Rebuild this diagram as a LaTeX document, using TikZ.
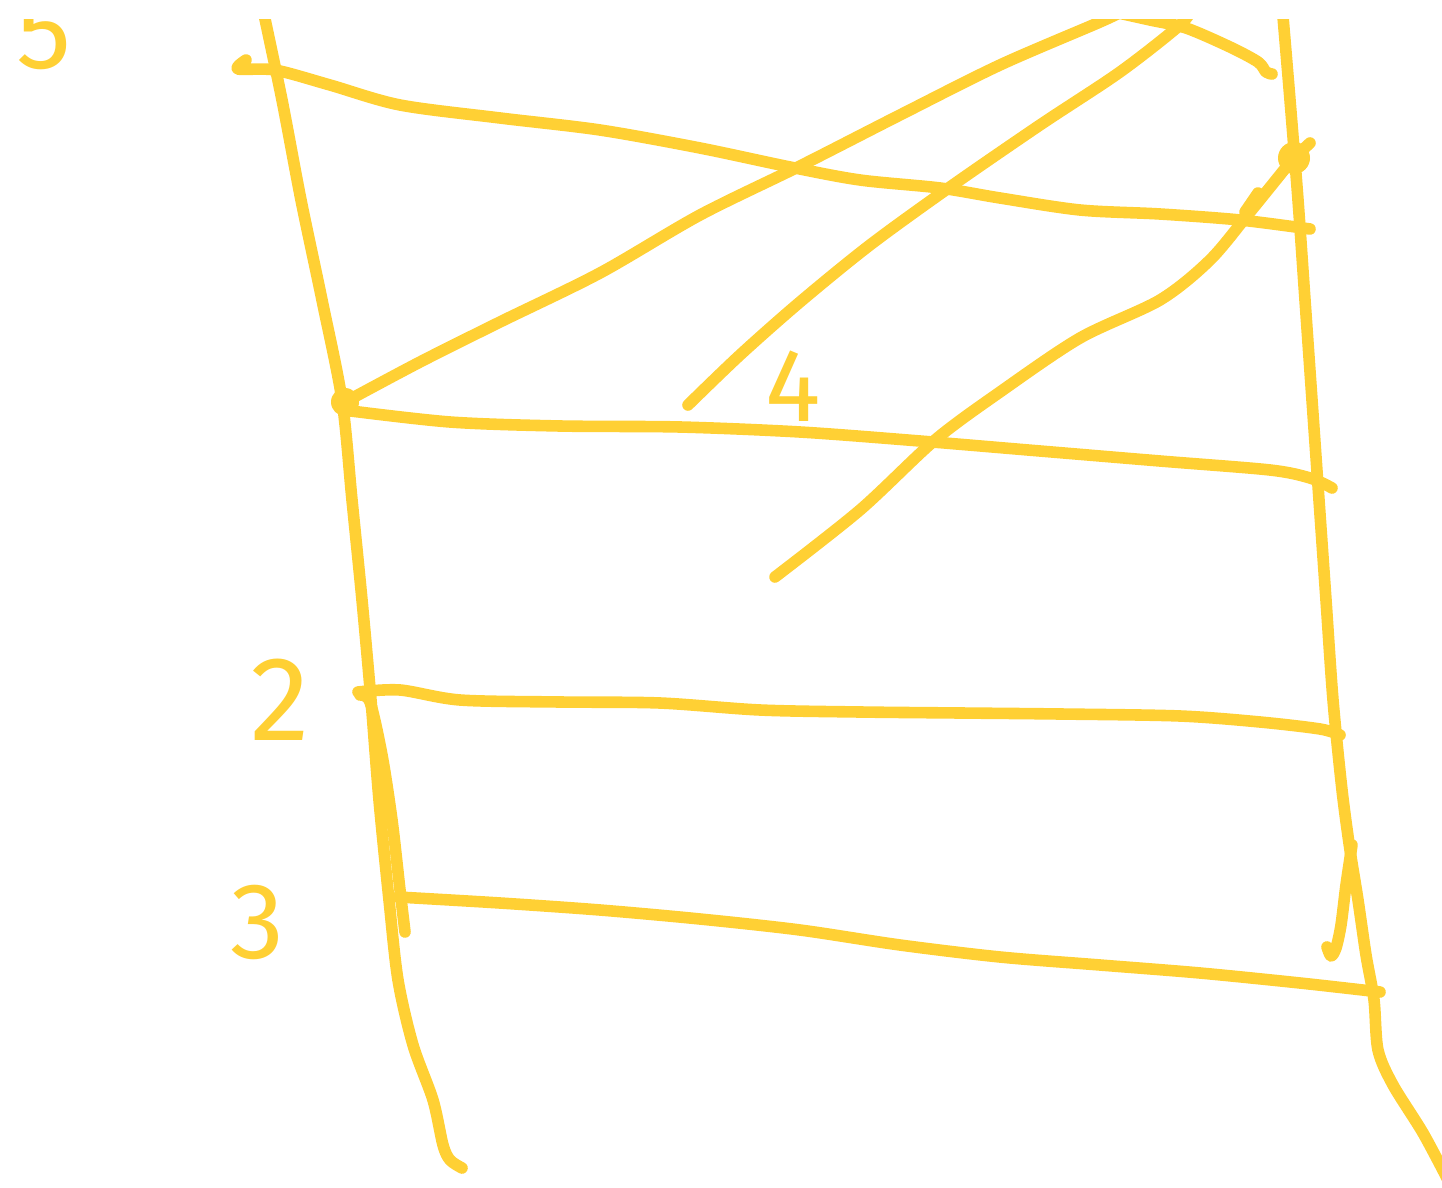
\documentclass[tikz,border=0pt]{standalone}
\usepackage{fontspec}
\setmainfont{Fira Sans}
\definecolor{hand}{RGB}{255,208,52}
\begin{document}
\begin{tikzpicture}[x=0.5pt,y=-0.5pt,
  stroke/.style={draw=hand,line width=5.8pt,line cap=round,line join=round},
  digit/.style={text=hand,inner sep=0pt,font=\fontsize{#1}{#1}\selectfont},
  dotmark/.style={fill=hand,draw=none}]
\useasboundingbox (0,0) rectangle (1442,1188);
\begin{scope}
\clip (0,20) rectangle (1442,1188);
% left post
\draw[stroke] plot[smooth,tension=0.5] coordinates {(262,5) (282,100) (301,200) (322,300) (342,400) (352,500) (362,600) (371,700) (379,800) (389,900) (398,980) (413,1045) (433,1100) (443,1145) (450,1160) (462,1168)};
\draw[stroke] plot[smooth,tension=0.5] coordinates {(360,695) (370,702) (382,755) (392,820) (400,890) (405,932)};
% right post
\draw[stroke] plot[smooth,tension=0.5] coordinates {(1282,5) (1290,100) (1298,200) (1305,300) (1312,400) (1319,500) (1326,600) (1333,700) (1342,790) (1350,850) (1358,900) (1366,955) (1374,1000) (1378,1050) (1393,1085) (1423,1133) (1448,1180)};
\draw[stroke] plot[smooth,tension=0.5] coordinates {(1352,845) (1346,885) (1341,925) (1336,948) (1331,956) (1327,947)};
% horizontal lines
\draw[stroke] plot[smooth,tension=0.5] coordinates {(246,60) (238,69) (275,70) (330,85) (400,105) (500,118) (600,130) (700,148) (790,167) (860,180) (940,188) (1000,198) (1080,210) (1160,214) (1240,220) (1310,229)};
\draw[stroke] plot[smooth,tension=0.5] coordinates {(343,410) (450,422) (560,426) (680,427) (800,432) (920,441) (1040,451) (1160,461) (1270,470) (1310,478) (1332,488)};
\draw[stroke] plot[smooth,tension=0.5] coordinates {(358,692) (400,690) (460,700) (560,702) (660,703) (760,710) (860,712) (960,713) (1060,714) (1180,716) (1260,722) (1320,729) (1340,735)};
\draw[stroke] plot[smooth,tension=0.5] coordinates {(398,897) (500,903) (600,910) (700,919) (800,930) (900,945) (1000,957) (1100,965) (1200,973) (1300,983) (1380,992)};
% diagonals
\draw[stroke] plot[smooth,tension=0.5] coordinates {(345,402) (420,362) (500,322) (600,273) (700,215) (800,166) (900,115) (1000,65) (1100,22) (1125,10)};
\draw[stroke] plot[smooth,tension=0.5] coordinates {(1105,10) (1150,20) (1186,28) (1230,47) (1258,62) (1266,72) (1272,74)};
\draw[stroke] plot[smooth,tension=0.5] coordinates {(688,405) (740,355) (800,302) (870,245) (950,187) (1040,125) (1120,72) (1180,25) (1192,8)};
\draw[stroke] plot[smooth,tension=0.5] coordinates {(775,577) (860,510) (935,440) (1000,392) (1080,338) (1160,300) (1210,260) (1250,212) (1292,160)};
\draw[stroke] (1258,193) -- (1245,212);
\draw[stroke] (1296,156) -- (1310,143);
% dots
\fill[dotmark] (345,402) circle[radius=14];
\fill[dotmark] (1294,158) circle[radius=16];
% labels
\node[digit=55] (l5) at (44,32) {5};
\end{scope}
\node[digit=52] (l4) at (793,386) {4};
\node[digit=60] (l2) at (280,700) {2};
\node[digit=54] (l3) at (257,922) {3};
\end{tikzpicture}
\end{document}
